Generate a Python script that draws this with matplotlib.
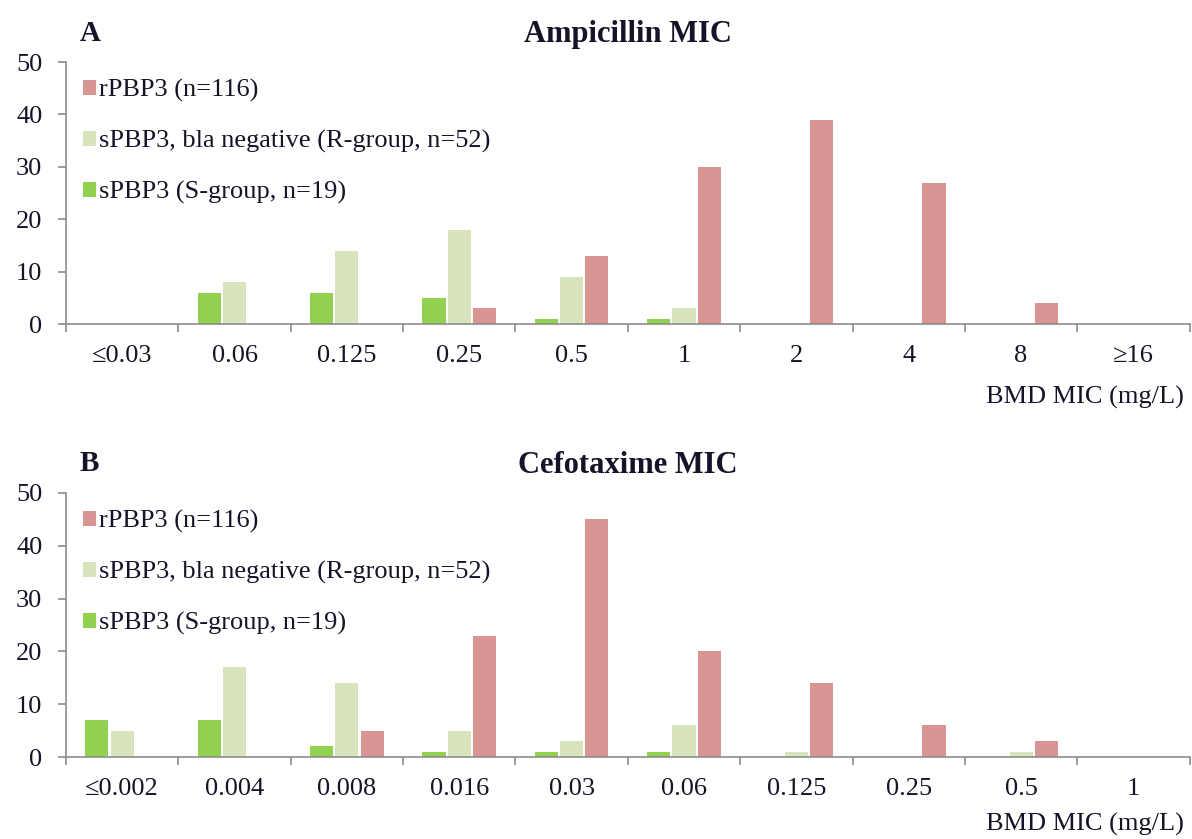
import matplotlib.pyplot as plt
import numpy as np

plt.rcParams["font.family"] = ["Liberation Serif", "DejaVu Serif"]

# MIC categories for each drug
amp_labels = ["≤0.03", "0.06", "0.125", "0.25", "0.5", "1", "2", "4", "8", "≥16"]
ctx_labels = ["≤0.002", "0.004", "0.008", "0.016", "0.03", "0.06", "0.125", "0.25", "0.5", "1"]

# isolate counts per MIC category
amp_s_group = [0, 6, 6, 5, 1, 1, 0, 0, 0, 0]
amp_r_group = [0, 8, 14, 18, 9, 3, 0, 0, 0, 0]
amp_rpbp3 = [0, 0, 0, 3, 13, 30, 39, 27, 4, 0]

ctx_s_group = [7, 7, 2, 1, 1, 1, 0, 0, 0, 0]
ctx_r_group = [5, 17, 14, 5, 3, 6, 1, 0, 1, 0]
ctx_rpbp3 = [0, 0, 5, 23, 45, 20, 14, 6, 3, 0]

series_labels = ["rPBP3 (n=116)",
                 "sPBP3, bla negative (R-group, n=52)",
                 "sPBP3 (S-group, n=19)"]
colors = {"r": "#D99594", "rg": "#D7E4BC", "s": "#92D050"}
TEXT = "#141428"
AXIS = "#8C8C8C"
FS = 19


def draw_panel(ax, labels, s_vals, rg_vals, r_vals, title, letter, unit_y):
    x = np.arange(len(labels))
    w = 0.205
    step = 0.225
    hs = ax.bar(x - step, s_vals, w, color=colors["s"], label=series_labels[2])
    hrg = ax.bar(x, rg_vals, w, color=colors["rg"], label=series_labels[1])
    hr = ax.bar(x + step, r_vals, w, color=colors["r"], label=series_labels[0])

    ax.set_xlim(-0.5, len(labels) - 0.5)
    ax.set_ylim(0, 50)
    ax.set_yticks(range(0, 51, 10))
    ax.set_xticks(x)
    ax.set_xticklabels(labels)
    # category boundaries get the tick marks, labels sit between them
    ax.set_xticks(np.arange(-0.5, len(labels) - 0.4, 1), minor=True)
    ax.tick_params(axis="x", which="major", length=0, pad=15,
                   labelsize=FS, labelcolor=TEXT)
    ax.tick_params(axis="x", which="minor", length=6, width=1.2, color=AXIS,
                   direction="out")
    ax.tick_params(axis="y", length=6, width=1.2, color=AXIS, pad=11,
                   labelsize=FS, labelcolor=TEXT)
    for side in ("top", "right"):
        ax.spines[side].set_visible(False)
    for side in ("left", "bottom"):
        ax.spines[side].set_color(AXIS)
        ax.spines[side].set_linewidth(1.2)

    ax.legend([hr, hrg, hs], series_labels, loc="upper left",
              bbox_to_anchor=(0.0, 1.0), frameon=False, fontsize=FS,
              handlelength=0.5, handleheight=0.5, handletextpad=0.12,
              labelspacing=1.06, borderaxespad=0.24, labelcolor=TEXT)

    ax.text(0.995, unit_y, "BMD MIC (mg/L)", transform=ax.transAxes,
            ha="right", va="center", fontsize=FS, color=TEXT)
    ax.text(0.5, 1.105, title, transform=ax.transAxes, ha="center",
            va="center", fontsize=22, fontweight="bold", color=TEXT)
    ax.text(0.012, 1.11, letter, transform=ax.transAxes, ha="left",
            va="center", fontsize=21, fontweight="bold", color=TEXT)


fig = plt.figure(figsize=(11.92, 8.39), dpi=100)
ax_a = fig.add_axes([0.0554, 0.6138, 0.9426, 0.3122])
ax_b = fig.add_axes([0.0554, 0.0977, 0.9426, 0.3147])

draw_panel(ax_a, amp_labels, amp_s_group, amp_r_group, amp_rpbp3,
           "Ampicillin MIC", "A", -0.28)
draw_panel(ax_b, ctx_labels, ctx_s_group, ctx_r_group, ctx_rpbp3,
           "Cefotaxime MIC", "B", -0.255)

fig.savefig("out.png", dpi=100)
